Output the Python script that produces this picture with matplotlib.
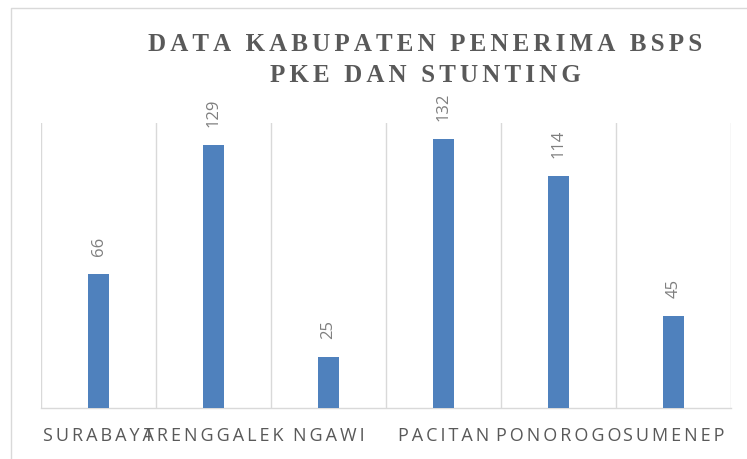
import matplotlib
matplotlib.use("Agg")
import matplotlib.pyplot as plt
from matplotlib.lines import Line2D
import numpy as np

categories = ["SURABAYA", "TRENGGALEK", "NGAWI", "PACITAN", "PONOROGO", "SUMENEP"]
values = [66, 129, 25, 132, 114, 45]
title_lines = ["DATA KABUPATEN PENERIMA BSPS", "PKE DAN STUNTING"]

BAR = "#4F81BD"
GRID = "#D9D9D9"
TXT = "#595959"
LBL = "#7F7F7F"

W, H = 747, 459


def track(s, gap):
    # poor man's letter spacing: put a narrow space between the letters
    return gap.join(s)


fig = plt.figure(figsize=(W / 100, H / 100), dpi=100, facecolor="white")
ax = fig.add_axes([41 / W, 51 / H, 690 / W, 285 / H])

x = np.arange(len(categories))
ax.bar(x, values, width=0.18, color=BAR, zorder=3)

ax.set_xlim(-0.5, len(categories) - 0.5)
ax.set_ylim(0, 140)
ax.set_yticks([])

ax.set_xticks(x)
ax.set_xticklabels([track(c, "\u2006") for c in categories],
                   fontsize=13, color=TXT, family=["Open Sans", "DejaVu Sans"])
ax.set_xticks(np.arange(-0.5, len(categories), 1), minor=True)
ax.tick_params(axis="x", which="both", length=0, pad=14)
ax.grid(which="minor", axis="x", color=GRID, linewidth=1)
ax.set_axisbelow(True)

for side in ("top", "left", "right"):
    ax.spines[side].set_visible(False)
ax.spines["bottom"].set_color(GRID)
ax.spines["bottom"].set_linewidth(1)

# data labels, turned upright
for xi, v in zip(x, values):
    ax.annotate(str(v), (xi, v), xytext=(0, 13), textcoords="offset points",
                rotation=90, ha="center", va="bottom",
                fontsize=12, color=LBL, family="Open Sans")

# title, spaced out
thin = "\u2006"
for i, line in enumerate(title_lines):
    fig.text(425 / W, (408 - 31 * i) / H, track(line, thin),
             ha="center", va="baseline", fontsize=18, fontweight="bold",
             family=["Liberation Serif", "DejaVu Serif"], color=TXT)

# chart area border (only top and left survive the crop)
fig.add_artist(Line2D([11 / W, 11 / W, 1], [0, 1 - 8 / H, 1 - 8 / H],
                      transform=fig.transFigure, color=GRID, linewidth=1))

fig.savefig("out.png", dpi=100, facecolor="white")
plt.close(fig)
